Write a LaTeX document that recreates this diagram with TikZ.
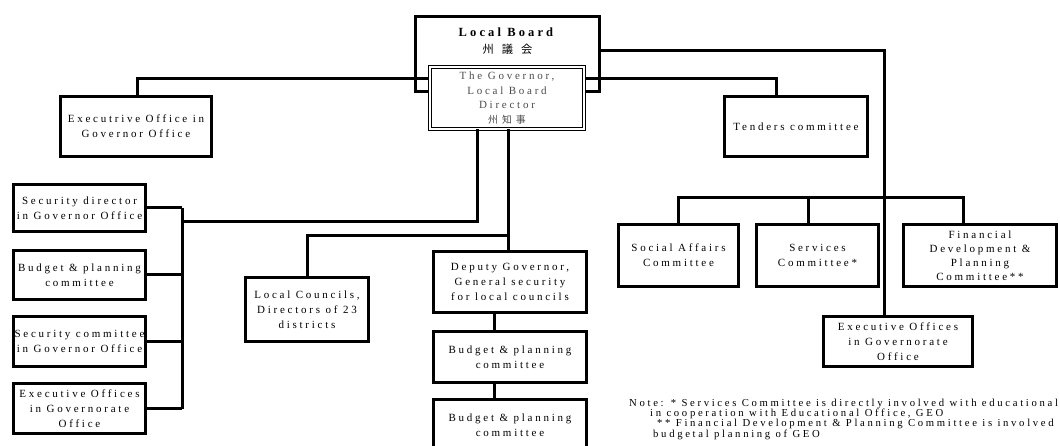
\documentclass[tikz,border=0pt]{standalone}
\usepackage{fontspec}
\setmainfont{Liberation Serif}[LetterSpace=25]
\newfontfamily\cjk{Noto Sans CJK JP}[LetterSpace=40,Scale=0.9]
\usetikzlibrary{calc}

\begin{document}
\begin{tikzpicture}[x=1pt,y=-1pt,
	box/.style={draw,line width=3pt,fill=white,align=center,inner sep=0pt,font=\fontsize{11}{15}\selectfont},
	govbox/.style={draw,double,line width=1pt,double distance=2pt,fill=white,align=center,inner sep=0pt,text=black!70,font=\fontsize{11}{14.5}\selectfont},
	link/.style={line width=3pt},
	note/.style={align=left,inner sep=0pt,font=\fontsize{10.7}{9.8}\selectfont}]
		\useasboundingbox (0,0) rectangle (1060,446);
		% board and governor
		\node[box,minimum width=184pt,minimum height=75pt] (board) at (507.5,54) {};
		\node[align=center,inner sep=0pt,font=\fontsize{12.5}{17}\selectfont] (boardname) at (507.5,41.5) {\textbf{Local Board}\\{\cjk\fontsize{12.5}{17}\selectfont 州\hspace{8pt}議\hspace{8pt}会}};
		\coordinate (gl) at (137,79);
		\coordinate (gr) at (776,79);
		\node[box,minimum width=151pt,minimum height=60pt] (execgov) at (136,126.5) {Executrive Office in\\Governor Office};
		\node[box,minimum width=143pt,minimum height=60pt] (tenders) at (796,126.5) {Tenders committee};
		\draw[link] (board.center |- gl) -- (gl) -- (gl |- execgov.north);
		\draw[link] (board.center |- gr) -- (gr) -- (gr |- tenders.north);
		\node[govbox,minimum width=154pt,minimum height=62pt] (gov) at (507,98) {The Governor,\\Local Board\\Director\\{\cjk 州知事}};
		% left column
		\node[box,minimum width=132pt,minimum height=47pt] (secdir) at (79.5,208) {Security director\\in Governor Office};
		\node[box,minimum width=132pt,minimum height=49pt] (budgetl) at (79.5,275) {Budget \& planning\\committee};
		\node[box,minimum width=132pt,minimum height=50pt] (seccom) at (79.5,341.5) {Security committee\\in Governor Office};
		\node[box,minimum width=132pt,minimum height=50pt] (execl) at (79.5,408.5) {Executive Offices\\in Governorate\\Office};
		% middle
		\node[box,minimum width=123pt,minimum height=64pt] (councils) at (307,309.5) {Local Councils,\\Directors of 23\\districts};
		\node[box,minimum width=153pt,minimum height=61pt] (deputy) at (510,282) {Deputy Governor,\\General security\\for local councils};
		\node[box,minimum width=153pt,minimum height=51pt] (budget1) at (510,357) {Budget \& planning\\committee};
		\node[box,minimum width=153pt,minimum height=51pt] (budget2) at (510,425) {Budget \& planning\\committee};
		% right
		\node[box,minimum width=120pt,minimum height=62pt] (social) at (678.5,255.5) {Social Affairs\\Committee};
		\node[box,minimum width=122pt,minimum height=62pt] (services) at (817.5,255.5) {Services\\Committee*};
		\node[box,minimum width=153pt,minimum height=62pt,font=\fontsize{11}{14}\selectfont] (financial) at (980,255.5) {Financial\\Development \&\\Planning\\Committee**};
		\node[box,minimum width=149pt,minimum height=50pt] (execr) at (898,341.5) {Executive Offices\\in Governorate\\Office};
		\node[note,anchor=north west] (remark) at (629,398.5) {Note: * Services Committee is directly involved with educational\\\hspace*{21pt}in cooperation with Educational Office, GEO\\\hspace*{28pt}** Financial Development \& Planning Committee is involved\\\hspace*{24pt}budgetal planning of GEO};
		% connectors
		\coordinate (rtop) at (884,51);
		\coordinate (cs1) at (678,198);
		\coordinate (cs2) at (808,198);
		\coordinate (cs3) at (963,198);
		\coordinate (dl) at (477,222);
		\coordinate (lbus) at (182,222);
		\coordinate (dr) at (508,236);
		\coordinate (dd) at (494,322);
		\draw[link] (board.east |- rtop) -- (rtop) -- (rtop |- execr.north);
		\draw[link] (cs1 |- social.north) -- (cs1) -- (cs3) -- (cs3 |- financial.north);
		\draw[link] (cs2) -- (cs2 |- services.north);
		\draw[link] (dl |- gov.south) -- (dl) -- (lbus);
		\draw[link] (lbus |- secdir.east) -- (lbus |- execl.east);
		\foreach \n in {secdir,budgetl,seccom,execl} \draw[link] (\n.east) -- (lbus |- \n.east);
		\draw[link] (dr |- gov.south) -- (dr |- deputy.north);
		\draw[link] (dr) -| (councils.north);
		\draw[link] (dd |- deputy.south) -- (dd |- budget1.north);
		\draw[link] (dd |- budget1.south) -- (dd |- budget2.north);
\end{tikzpicture}
\end{document}
